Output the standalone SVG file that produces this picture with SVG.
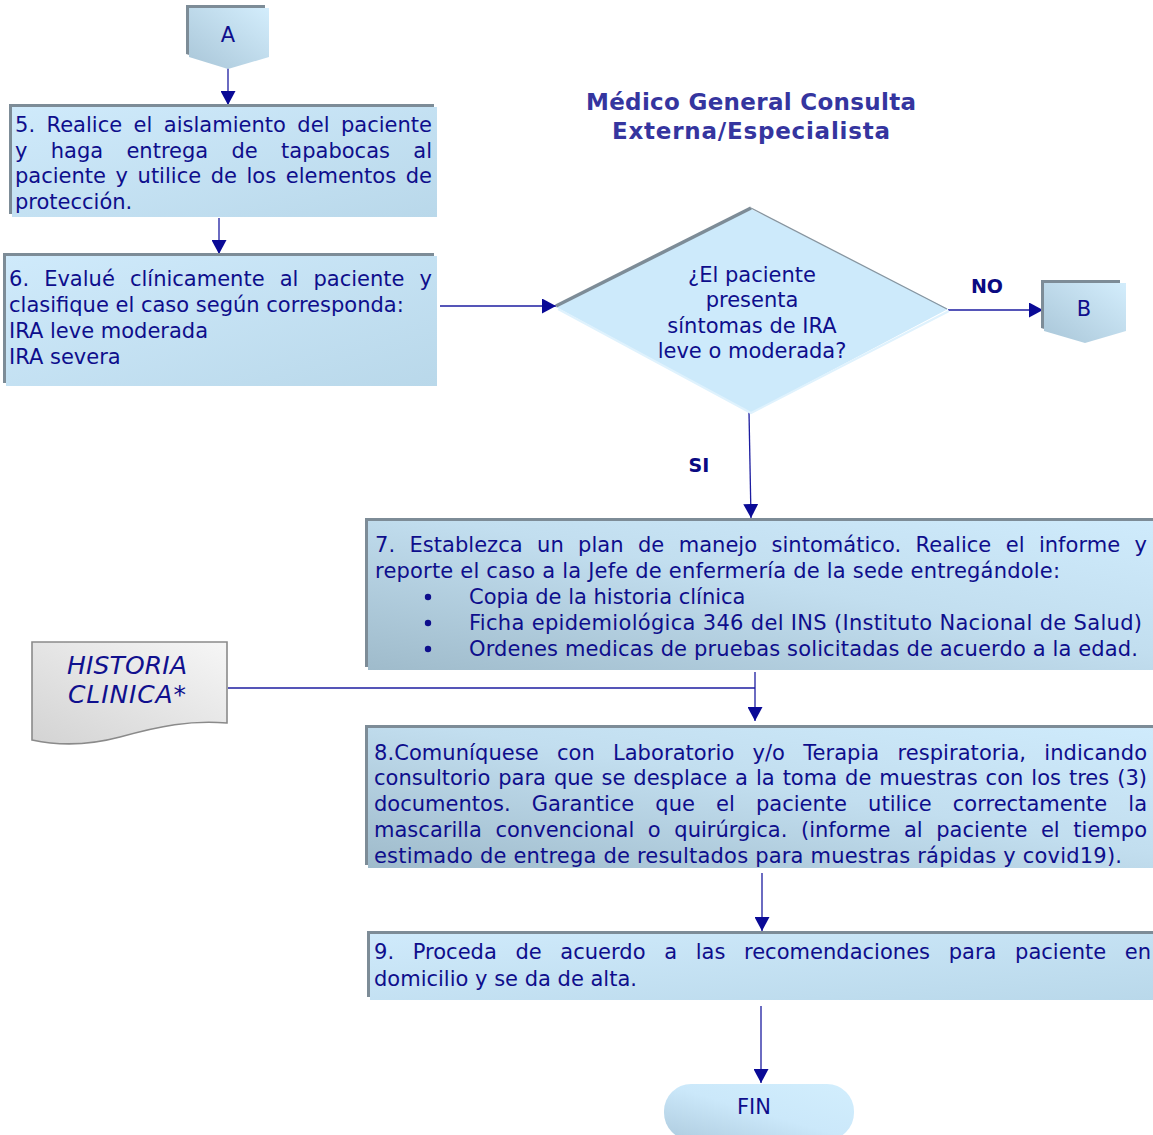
<svg xmlns="http://www.w3.org/2000/svg" width="1153" height="1135" viewBox="0 0 1153 1135">
<style>
.t{font-family:"DejaVu Sans",Verdana,sans-serif;font-size:21px;fill:#0e0e8c}
.c{text-anchor:middle}
.ttl{font-family:"DejaVu Sans",Verdana,sans-serif;font-size:23px;font-weight:bold;fill:#35359f;text-anchor:middle}
.lbl{font-family:"DejaVu Sans",Verdana,sans-serif;font-size:19px;font-weight:bold;fill:#0a0a82;text-anchor:middle}
.hc{font-family:"DejaVu Sans",Verdana,sans-serif;font-size:25px;font-style:italic;fill:#10108e;text-anchor:middle}
.edge{fill:#7d8c97}
.ln{stroke:#1c1ca0;stroke-width:1.3;fill:none}
</style>
<defs>
<linearGradient id="gBox" x1="0" y1="0" x2="1" y2="1"><stop offset="0" stop-color="#cfeafb"/><stop offset="1" stop-color="#b9d8ea"/></linearGradient>
<linearGradient id="gDark" x1="1" y1="0" x2="0" y2="1"><stop offset="0" stop-color="#cfebfc"/><stop offset="0.45" stop-color="#c2deef"/><stop offset="1" stop-color="#9fbbcb"/></linearGradient>
<linearGradient id="gConn" x1="1" y1="0" x2="0" y2="1"><stop offset="0" stop-color="#d3edfc"/><stop offset="1" stop-color="#a9c6d8"/></linearGradient>
<linearGradient id="gFin" x1="0" y1="1" x2="1" y2="0"><stop offset="0" stop-color="#aecbde"/><stop offset="0.5" stop-color="#cbe8fa"/><stop offset="1" stop-color="#d2eefd"/></linearGradient>
<linearGradient id="gDoc" x1="1" y1="0" x2="0" y2="1"><stop offset="0" stop-color="#f6f6f6"/><stop offset="1" stop-color="#d3d3d3"/></linearGradient>
<marker id="arr" markerUnits="userSpaceOnUse" markerWidth="15" markerHeight="15" refX="14" refY="7.5" orient="auto"><path d="M0,0 L14,7.5 L0,15 Z" fill="#0a0a96"/></marker>
</defs>

<g id="title">
<text class="ttl" x="751" y="110" textLength="330">Médico General Consulta</text>
<text class="ttl" x="751" y="139" textLength="278">Externa/Especialista</text>
</g>

<g id="connectors">
<path class="ln" d="M228,68 V105" marker-end="url(#arr)"/>
<path class="ln" d="M219,218 V254" marker-end="url(#arr)"/>
<path class="ln" d="M440,306 H556" marker-end="url(#arr)"/>
<path class="ln" d="M948,310 H1043" marker-end="url(#arr)"/>
<path class="ln" d="M749,412 L751,518" marker-end="url(#arr)"/>
<path class="ln" d="M228,688 H755"/>
<path class="ln" d="M755,672 V721" marker-end="url(#arr)"/>
<path class="ln" d="M762,873 V931" marker-end="url(#arr)"/>
<path class="ln" d="M761,1006 V1083" marker-end="url(#arr)"/>
<text class="lbl" x="987" y="293">NO</text>
<text class="lbl" x="699" y="472">SI</text>
</g>

<g id="connA">
<polygon class="edge" points="186,5 265,5 265,54 226,66 186,54"/>
<polygon fill="url(#gConn)" points="189,8 269,8 269,57 228,69 189,57"/>
<text class="t c" x="228" y="42">A</text>
</g>

<g id="step5">
<rect class="edge" x="9" y="104" width="425" height="110"/>
<rect fill="url(#gBox)" x="12" y="107" width="425" height="110"/>
<text class="t" x="15" y="132" word-spacing="4.7" textLength="417">5. Realice el aislamiento del paciente</text>
<text class="t" x="15" y="158" word-spacing="16.6" textLength="417">y haga entrega de tapabocas al</text>
<text class="t" x="15" y="183" word-spacing="2.9" textLength="417">paciente y utilice de los elementos de</text>
<text class="t" x="15" y="209">protección.</text>
</g>

<g id="step6">
<rect class="edge" x="3" y="253" width="431" height="130"/>
<rect fill="url(#gBox)" x="6" y="256" width="431" height="130"/>
<text class="t" x="9" y="286" word-spacing="8.4" textLength="423">6. Evalué clínicamente al paciente y</text>
<text class="t" x="9" y="312">clasifique el caso según corresponda:</text>
<text class="t" x="9" y="338">IRA leve moderada</text>
<text class="t" x="9" y="364">IRA severa</text>
</g>

<g id="decision">
<polygon fill="#cdeafb" points="556,307 751,209 948,309 751,413"/>
<path d="M949,311 L751,413 L558,309" stroke="#dff2fd" stroke-width="2" fill="none"/>
<path d="M556,306 L751,208" stroke="#7d8c97" stroke-width="3.5" fill="none"/>
<path d="M751,208 L947,309" stroke="#8695a0" stroke-width="1.3" fill="none"/>
<text class="t c" x="752" y="282">¿El paciente</text>
<text class="t c" x="752" y="307">presenta</text>
<text class="t c" x="752" y="333">síntomas de IRA</text>
<text class="t c" x="752" y="358">leve o moderada?</text>
</g>

<g id="connB">
<polygon class="edge" points="1041,280 1120,280 1120,328 1081,340 1041,328"/>
<polygon fill="url(#gConn)" points="1044,283 1126,283 1126,331 1085,343 1044,331"/>
<text class="t c" x="1084" y="316">B</text>
</g>

<g id="step7">
<rect class="edge" x="365" y="518" width="790" height="149"/>
<rect fill="url(#gDark)" x="368" y="521" width="790" height="149"/>
<text class="t" x="375" y="552" word-spacing="7.7" textLength="772">7. Establezca un plan de manejo sintomático. Realice el informe y</text>
<text class="t" x="375" y="578" textLength="685">reporte el caso a la Jefe de enfermería de la sede entregándole:</text>
<circle cx="428" cy="597" r="3.2" fill="#0e0e8c"/>
<circle cx="428" cy="623" r="3.2" fill="#0e0e8c"/>
<circle cx="428" cy="649" r="3.2" fill="#0e0e8c"/>
<text class="t" x="469" y="604">Copia de la historia clínica</text>
<text class="t" x="469" y="630" textLength="673">Ficha epidemiológica 346 del INS (Instituto Nacional de Salud)</text>
<text class="t" x="469" y="656" textLength="669">Ordenes medicas de pruebas solicitadas de acuerdo a la edad.</text>
</g>

<g id="historia">
<path d="M32,642 H227 V723 C190,720 160,726 120,737 C90,745 60,746 32,740 Z" fill="url(#gDoc)" stroke="#8a8a8a" stroke-width="1.6"/>
<text class="hc" x="127" y="674" textLength="120">HISTORIA</text>
<text class="hc" x="127" y="703" textLength="118">CLINICA*</text>
</g>

<g id="step8">
<rect class="edge" x="365" y="725" width="790" height="140"/>
<rect fill="url(#gDark)" x="368" y="728" width="790" height="140"/>
<text class="t" x="374" y="760" word-spacing="11.4" textLength="773">8.Comuníquese con Laboratorio y/o Terapia respiratoria, indicando</text>
<text class="t" x="374" y="785" word-spacing="1.3" textLength="773">consultorio para que se desplace a la toma de muestras con los tres (3)</text>
<text class="t" x="374" y="811" word-spacing="14.4" textLength="773">documentos. Garantice que el paciente utilice correctamente la</text>
<text class="t" x="374" y="837" word-spacing="6.9" textLength="773">mascarilla convencional o quirúrgica. (informe al paciente el tiempo</text>
<text class="t" x="374" y="863" textLength="748">estimado de entrega de resultados para muestras rápidas y covid19).</text>
</g>

<g id="step9">
<rect class="edge" x="367" y="931" width="790" height="66"/>
<rect fill="url(#gBox)" x="370" y="934" width="790" height="66"/>
<text class="t" x="374" y="959" word-spacing="11.9" textLength="777">9. Proceda de acuerdo a las recomendaciones para paciente en</text>
<text class="t" x="374" y="986">domicilio y se da de alta.</text>
</g>

<g id="fin">
<rect fill="url(#gFin)" x="664" y="1084" width="190" height="56" rx="27"/>
<text class="t c" x="754" y="1114">FIN</text>
</g>
</svg>
